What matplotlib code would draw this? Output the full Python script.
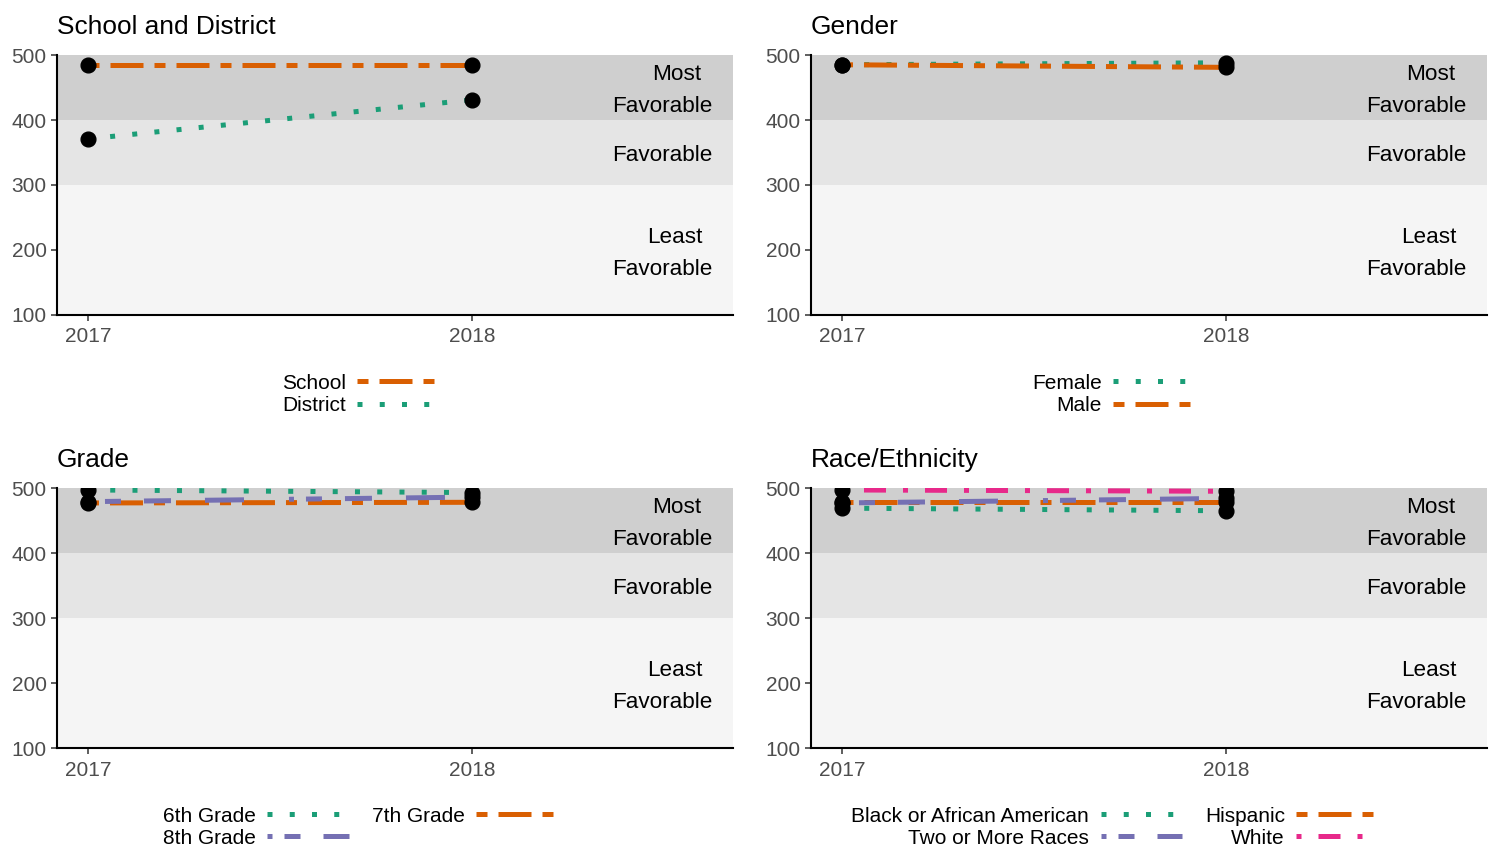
import matplotlib
matplotlib.use("Agg")
import matplotlib.pyplot as plt
from matplotlib.lines import Line2D

plt.rcParams['font.family'] = ['Liberation Sans', 'DejaVu Sans']

# Data
years = [2017, 2018]

school = [485, 485]
district = [371, 431]

female = [485, 488]
male = [485, 481]

grade6 = [497, 493]
grade7 = [477, 478]
grade8 = [479, 486]

black = [469, 465]
hispanic = [478, 478]
two_more = [477, 484]
white = [497, 495]

# Dark2 palette and line types
TEAL, ORANGE, PURPLE, PINK = '#1B9E77', '#D95F02', '#7570B3', '#E7298A'
DOTTED = (0, (1, 3.45))
TWODASH = (0, (2.2, 2.2, 6.6, 2.2))
PURPLE_LT = (0, (1, 2.4, 3.2, 4.6, 5.4, 6.8, 7.8, 9))
PINK_LT = (0, (1, 3.4, 4.4, 3.4))
LW = 3.6


def draw_panel(ax, title, series, legend_order, legend_x, legend_y, ncol):
    # background bands
    ax.axhspan(400, 500, color='#CFCFCF', lw=0, zorder=0)
    ax.axhspan(300, 400, color='#E5E5E5', lw=0, zorder=0)
    ax.axhspan(100, 300, color='#F5F5F5', lw=0, zorder=0)

    handles = {}
    for label, vals, color, ls in series:
        ax.plot(years, vals, color=color, linestyle=ls, lw=LW,
                dash_capstyle='butt', zorder=2)
        handles[label] = Line2D([], [], color=color, linestyle=ls, lw=LW,
                                dash_capstyle='butt')
    for label, vals, color, ls in series:
        ax.plot(years, vals, 'o', color='black', ms=10.6, zorder=3)

    # band labels
    tr = ax.get_yaxis_transform()
    kw = dict(transform=tr, ha='right', va='center', fontsize=16.2, color='black')
    ax.text(0.953, 469.5, 'Most', **kw)
    ax.text(0.969, 420.5, 'Favorable', **kw)
    ax.text(0.969, 346, 'Favorable', **kw)
    ax.text(0.955, 219.5, 'Least', **kw)
    ax.text(0.969, 170, 'Favorable', **kw)

    ax.set_xlim(2016.9193, 2018.6797)
    ax.set_ylim(100, 500)
    ax.set_xticks(years)
    ax.set_yticks([100, 200, 300, 400, 500])
    ax.set_title(title, loc='left', fontsize=18.9, pad=15.2)

    for s in ['top', 'right']:
        ax.spines[s].set_visible(False)
    for s in ['left', 'bottom']:
        ax.spines[s].set_color('black')
        ax.spines[s].set_linewidth(1.5)
    ax.tick_params(direction='out', length=4.5, width=1.1, color='#333333',
                   labelcolor='#4D4D4D', labelsize=15, pad=3)
    ax.tick_params(axis='x', pad=4.5)

    fig = ax.figure
    ax.legend([handles[k] for k in legend_order], legend_order,
              loc='center', bbox_to_anchor=(legend_x, legend_y),
              bbox_transform=fig.transFigure, ncol=ncol, frameon=False,
              markerfirst=False, fontsize=15, handlelength=3.9,
              handletextpad=0.55, columnspacing=1.1, labelspacing=0.15,
              borderpad=0)


fig = plt.figure(figsize=(14.94, 8.48), dpi=100)

left1, left2, width = 0.03815, 0.54284, 0.45248
bottom1, bottom2, height = 0.62854, 0.11792, 0.30660

ax1 = fig.add_axes([left1, bottom1, width, height])
ax2 = fig.add_axes([left2, bottom1, width, height])
ax3 = fig.add_axes([left1, bottom2, width, height])
ax4 = fig.add_axes([left2, bottom2, width, height])

draw_panel(ax1, 'School and District',
           [('School', school, ORANGE, TWODASH),
            ('District', district, TEAL, DOTTED)],
           ['School', 'District'], 0.241, 0.535, 1)

draw_panel(ax2, 'Gender',
           [('Female', female, TEAL, DOTTED),
            ('Male', male, ORANGE, TWODASH)],
           ['Female', 'Male'], 0.745, 0.535, 1)

draw_panel(ax3, 'Grade',
           [('6th Grade', grade6, TEAL, DOTTED),
            ('7th Grade', grade7, ORANGE, TWODASH),
            ('8th Grade', grade8, PURPLE, PURPLE_LT)],
           ['6th Grade', '8th Grade', '7th Grade'], 0.241, 0.0245, 2)

draw_panel(ax4, 'Race/Ethnicity',
           [('Black or African American', black, TEAL, DOTTED),
            ('Hispanic', hispanic, ORANGE, TWODASH),
            ('Two or More Races', two_more, PURPLE, PURPLE_LT),
            ('White', white, PINK, PINK_LT)],
           ['Black or African American', 'Two or More Races', 'Hispanic', 'White'],
           0.746, 0.0245, 2)

fig.savefig('out.png', dpi=100)
